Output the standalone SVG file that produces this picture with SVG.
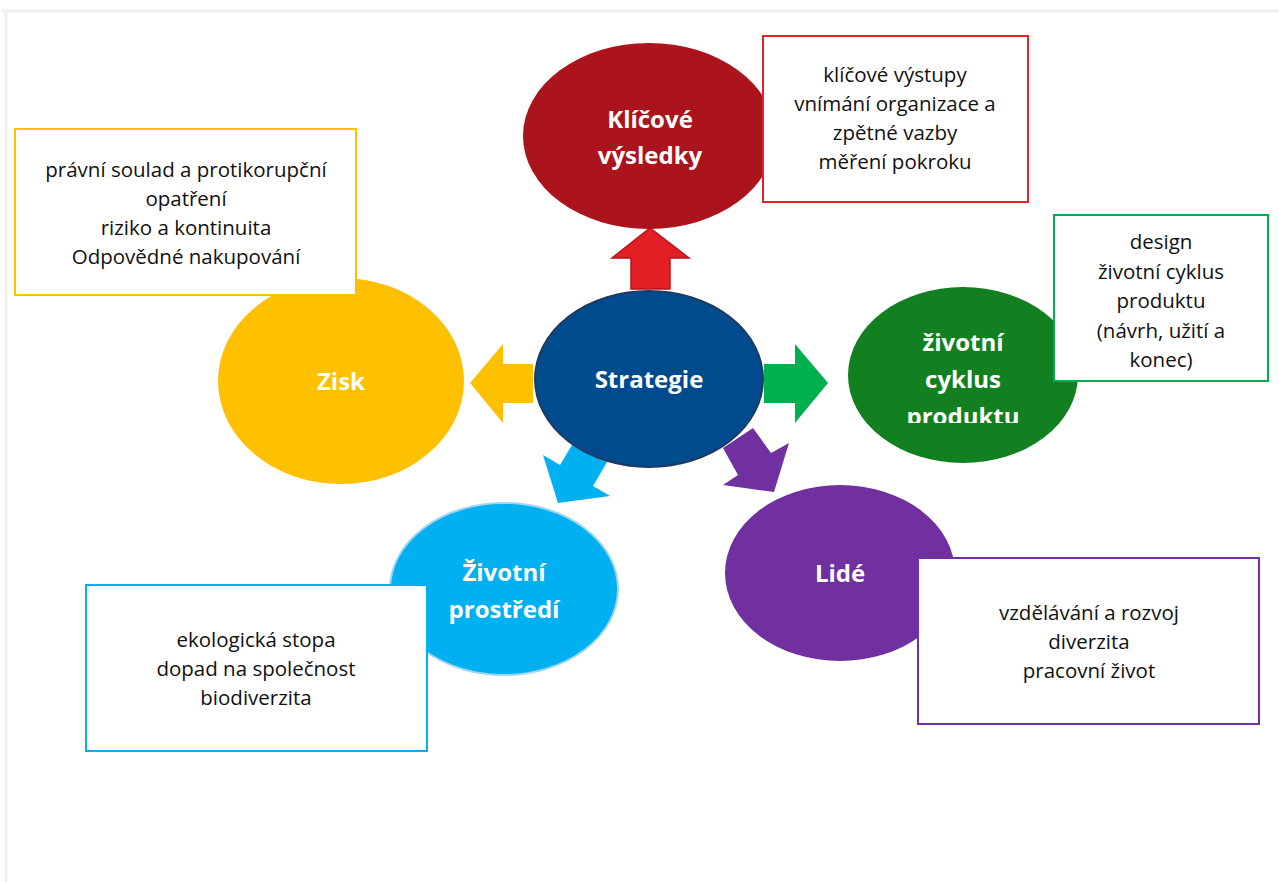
<svg xmlns="http://www.w3.org/2000/svg" width="1279" height="882" viewBox="0 0 1279 882">
<style>
.lbl{font-family:"Open Sans","Noto Sans",sans-serif;font-weight:bold;font-size:24px;fill:#ffffff;text-anchor:middle}
.txt{font-family:"Open Sans","Noto Sans",sans-serif;font-size:20.5px;fill:#111111;text-anchor:middle}
.box{fill:#ffffff;stroke-width:2}
</style>
<defs>
<clipPath id="gclip"><rect x="840" y="280" width="250" height="143"/></clipPath>
</defs>
<rect x="0" y="0" width="1279" height="882" fill="#ffffff"/>
<g id="frame" fill="none" stroke="#f0f0f0" stroke-width="3">
<line x1="2" y1="11" x2="1279" y2="11"/>
<line x1="6" y1="11" x2="6" y2="882"/>
</g>
<g id="connectors">
<polygon points="631,289 631,258 612,258 650,228 689,258 670,258 670,289" fill="#e31e24" stroke="#b5161c" stroke-width="1.5"/>
<polygon points="533,364 503,364 503,344 470,383 503,423 503,403 533,403" fill="#ffc000"/>
<polygon points="764,364 795,364 795,344 828,383 795,423 795,403 764,403" fill="#00b050"/>
<polygon points="575,440 607,462 593,486 610,496 558,503 543,455 560,465" fill="#00b0f0"/>
<polygon points="723,448 753,428 771,453 789,443 774,492 723,485 738,475" fill="#7030a0"/>
</g>
<g id="strategie">
<ellipse cx="649" cy="379" rx="114" ry="88" fill="#004b8d" stroke="#1f3a60" stroke-width="2"/>
<text class="lbl" x="649" y="388">Strategie</text>
</g>
<g id="klicove">
<ellipse cx="649" cy="136" rx="126" ry="93" fill="#ab141c"/>
<text class="lbl" x="650" y="128">Klíčové</text>
<text class="lbl" x="650" y="164">výsledky</text>
</g>
<g id="zisk">
<ellipse cx="341" cy="381" rx="123" ry="103" fill="#ffc000"/>
<text class="lbl" x="341" y="390">Zisk</text>
</g>
<g id="zivotni-cyklus">
<ellipse cx="963" cy="375" rx="115" ry="88" fill="#128020"/>
<g clip-path="url(#gclip)">
<text class="lbl" x="963" y="351">životní</text>
<text class="lbl" x="963" y="388">cyklus</text>
<text class="lbl" x="963" y="425">produktu</text>
</g>
</g>
<g id="lide">
<ellipse cx="840" cy="573" rx="115" ry="88" fill="#7030a0"/>
<text class="lbl" x="840" y="582">Lidé</text>
</g>
<g id="zivotni-prostredi">
<ellipse cx="504" cy="589" rx="114" ry="86" fill="#00b0f0" stroke="#9fd6f2" stroke-width="2"/>
<text class="lbl" x="504" y="581">Životní</text>
<text class="lbl" x="504" y="618">prostředí</text>
</g>
<g id="box-klicove">
<rect class="box" x="763" y="36" width="265" height="166" stroke="#e3222a"/>
<text class="txt" x="895" y="82">klíčové výstupy</text>
<text class="txt" x="895" y="111">vnímání organizace a</text>
<text class="txt" x="895" y="140">zpětné vazby</text>
<text class="txt" x="895" y="169">měření pokroku</text>
</g>
<g id="box-zisk">
<rect class="box" x="15" y="129" width="341" height="166" stroke="#ffc000"/>
<text class="txt" x="186" y="177">právní soulad a protikorupční</text>
<text class="txt" x="186" y="206">opatření</text>
<text class="txt" x="186" y="235">riziko a kontinuita</text>
<text class="txt" x="186" y="264">Odpovědné nakupování</text>
</g>
<g id="box-cyklus">
<rect class="box" x="1054" y="215" width="214" height="166" stroke="#00b050"/>
<text class="txt" x="1161" y="249">design</text>
<text class="txt" x="1161" y="279">životní cyklus</text>
<text class="txt" x="1161" y="308">produktu</text>
<text class="txt" x="1161" y="338">(návrh, užití a</text>
<text class="txt" x="1161" y="367">konec)</text>
</g>
<g id="box-lide">
<rect class="box" x="918" y="558" width="341" height="166" stroke="#7030a0"/>
<text class="txt" x="1089" y="620">vzdělávání a rozvoj</text>
<text class="txt" x="1089" y="649">diverzita</text>
<text class="txt" x="1089" y="678">pracovní život</text>
</g>
<g id="box-prostredi">
<rect class="box" x="86" y="585" width="341" height="166" stroke="#00b0f0"/>
<text class="txt" x="256" y="647">ekologická stopa</text>
<text class="txt" x="256" y="676">dopad na společnost</text>
<text class="txt" x="256" y="705">biodiverzita</text>
</g>
</svg>
